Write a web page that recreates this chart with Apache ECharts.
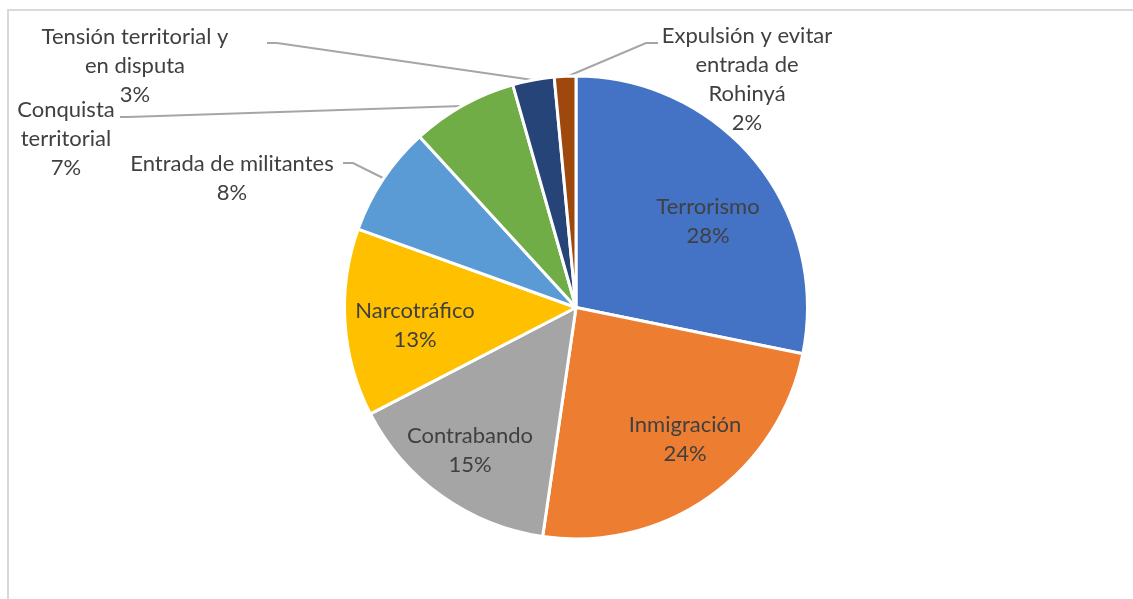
<!DOCTYPE html>
<html>
<head>
<meta charset="utf-8">
<script src="https://cdn.jsdelivr.net/npm/echarts@6/dist/echarts.min.js"></script>
<style>
html,body{margin:0;padding:0;background:#fff;}
#chart{width:1133px;height:599px;}
</style>
</head>
<body>
<div id="chart"></div>
<script>
// ---- Data ----
const categories = ['Terrorismo', 'Inmigración', 'Contrabando', 'Narcotráfico',
  'Entrada de militantes', 'Conquista territorial',
  'Tensión territorial y en disputa', 'Expulsión y evitar entrada de Rohinyá'];
const values = [28.2, 24.1, 15.1, 13.1, 7.7, 7.4, 2.9, 1.5];
const labelNames = ['Terrorismo', 'Inmigración', 'Contrabando', 'Narcotráfico',
  'Entrada de militantes', 'Conquista\nterritorial',
  'Tensión territorial y\nen disputa', 'Expulsión y evitar\nentrada de\nRohinyá'];
const colors = ['#4472C4', '#ED7D31', '#A5A5A5', '#FFC000', '#5B9BD5', '#70AD47', '#264478', '#9E480E'];

// ---- Layout (label placement, leader lines) ----
const labelPos = [[708, 221], [685, 439], [470, 450], [415, 325], [232, 178], [66, 139], [135, 66], [747, 79]];
const leaderLines = [null, null, null, null,
  [[383, 178], [353, 163], [343, 163]],
  [[462, 106], [128, 117], [120, 117]],
  [[533, 80], [277, 43], [267, 43]],
  [[566, 77], [646, 43], [658, 43]]];

const chart = echarts.init(document.getElementById('chart'));
const data = categories.map((c, i) => ({
  name: c,
  value: values[i],
  itemStyle: { color: colors[i] },
  labelLine: { show: !!leaderLines[i] }
}));

chart.setOption({
  animation: false,
  graphic: [{
    type: 'rect', shape: { x: 8, y: 10, width: 1300, height: 800 },
    style: { fill: 'none', stroke: '#d9d9d9', lineWidth: 2 }, silent: true, z: -1
  }],
  series: [{
    type: 'pie',
    center: [576, 307.5],
    radius: 231.5,
    startAngle: 90,
    clockwise: true,
    avoidLabelOverlap: false,
    itemStyle: { borderColor: '#ffffff', borderWidth: 3 },
    label: {
      show: true,
      position: 'outside',
      fontFamily: 'Lato',
      fontSize: 22,
      lineHeight: 29,
      color: '#404040',
      align: 'center',
      formatter: p => labelNames[p.dataIndex] + '\n' + Math.round(p.percent) + '%'
    },
    labelLine: { lineStyle: { color: '#a6a6a6', width: 2 }, smooth: false },
    labelLayout: function (params) {
      const i = params.dataIndex;
      const o = { x: labelPos[i][0], y: labelPos[i][1], align: 'center', verticalAlign: 'middle' };
      if (leaderLines[i]) o.labelLinePoints = leaderLines[i];
      return o;
    },
    data: data
  }]
});
</script>
</body>
</html>
